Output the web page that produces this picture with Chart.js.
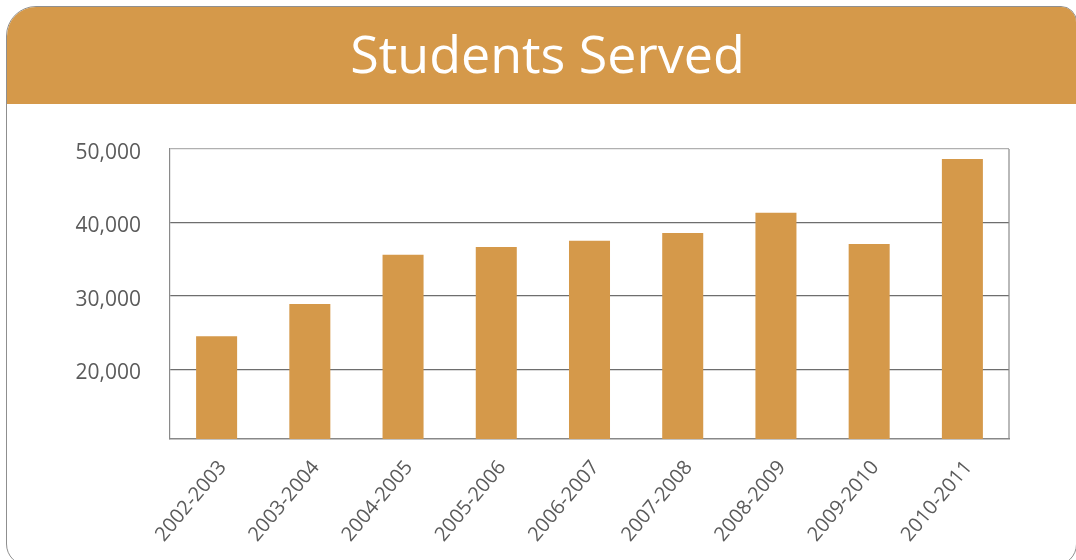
<!DOCTYPE html>
<html>
<head>
<meta charset="utf-8">
<title>Students Served</title>
<script src="https://cdn.jsdelivr.net/npm/chart.js@4.4.1/dist/chart.umd.min.js"></script>
<style>
    html, body { margin: 0; padding: 0; background: #fff; overflow: hidden; }
    body { width: 1076px; height: 560px; position: relative; font-family: "Open Sans", sans-serif; }
    .card {
        position: absolute; left: 6px; top: 6px; width: 1071px; height: 560px;
        border: 1.5px solid #8f8f8f; border-radius: 30px 16px 22px 22px;
        box-sizing: border-box; overflow: hidden; background: #fff;
    }
    .header {
        height: 97px; background: #D5994A; color: #fff;
        text-align: center; font-size: 52px; line-height: 91px; padding-left: 12px;
    }
    .wrap { position: absolute; left: 0; top: 0; width: 1076px; height: 560px; }
</style>
</head>
<body>
<div class="card"><div class="header">Students Served</div></div>
<div class="wrap"><canvas id="chart" width="1076" height="560"></canvas></div>
<script>
/* ---------- data ---------- */
const categories = ["2002-2003", "2003-2004", "2004-2005", "2005-2006", "2006-2007",
                    "2007-2008", "2008-2009", "2009-2010", "2010-2011"];
const students   = [24500, 28900, 35600, 36650, 37500, 38550, 41300, 37050, 48650];
const yTicks     = [20000, 30000, 40000, 50000];

const barColor  = "#D5994A";
const textColor = "#5b5b5b";

// right edge of the plot frame (chart.js only draws left/bottom borders)
const frameRight = {
    id: "frameRight",
    afterDraw(chart) {
        const a = chart.chartArea, c = chart.ctx;
        c.save();
        c.strokeStyle = "#8a8a8a";
        c.lineWidth = 1.2;
        c.beginPath();
        c.moveTo(a.right, a.top);
        c.lineTo(a.right, a.bottom);
        c.stroke();
        c.restore();
    }
};

new Chart(document.getElementById("chart"), {
    type: "bar",
    data: {
        labels: categories,
        datasets: [{
            data: students,
            backgroundColor: barColor,
            borderWidth: 0,
            categoryPercentage: 1,
            barPercentage: 0.44
        }]
    },
    options: {
        responsive: false,
        animation: false,
        layout: { padding: { top: 149, right: 67, left: 0, bottom: 0 } },
        plugins: { legend: { display: false }, tooltip: { enabled: false } },
        scales: {
            x: {
                grid: { display: false },
                border: { color: "#888", width: 1.5 },
                ticks: {
                    color: textColor,
                    font: { family: "Open Sans", size: 20 },
                    minRotation: 50, maxRotation: 50,
                    padding: 9,
                    labelOffset: 6
                },
                afterFit(scale) { scale.height = 121; }
            },
            y: {
                min: 10500,
                max: 50000,
                afterBuildTicks(scale) { scale.ticks = yTicks.map(v => ({ value: v })); },
                grid: {
                    drawTicks: false,
                    color: ctx => (ctx.tick && ctx.tick.value === 50000) ? "#b0b0b0" : "#6e6e6e",
                    lineWidth: 1.2
                },
                border: { color: "#8a8a8a", width: 1.2 },
                ticks: {
                    color: textColor,
                    font: { family: "Open Sans", size: 21 },
                    padding: 29,
                    labelOffset: 4,
                    callback: v => v.toLocaleString("en-US")
                },
                afterFit(scale) { scale.width = 170; }
            }
        }
    },
    plugins: [frameRight]
});
</script>
</body>
</html>
